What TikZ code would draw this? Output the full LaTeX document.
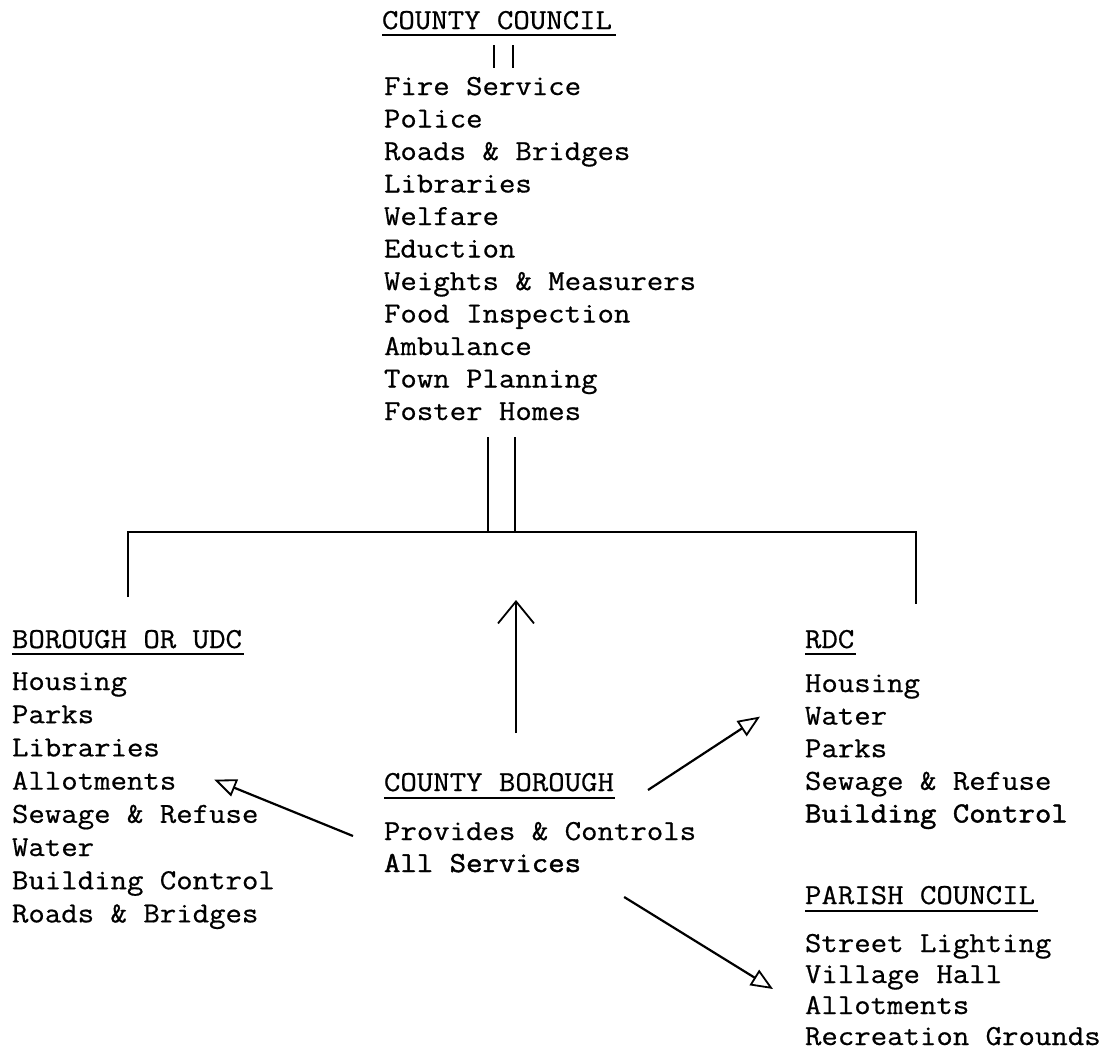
\documentclass[tikz,border=0pt]{standalone}
\usepackage{fontspec}
\newfontfamily\tw{Latin Modern Mono}[FakeStretch=1.1,FakeBold=0.6]
\newfontfamily\twheavy{Latin Modern Mono}[FakeStretch=1.1,FakeBold=1.6]
\usetikzlibrary{arrows.meta,calc}
\begin{document}
\begin{tikzpicture}[x=1pt,y=-1pt,
  every node/.style={inner sep=0pt, outer sep=0pt, anchor=base west,
    font=\tw\fontsize{29}{33}\selectfont},
  heavy/.style={font=\twheavy\fontsize{29}{33}\selectfont},
  conn/.style={line width=2pt},
  bus/.style={line width=2.4pt},
  ul/.style={line width=2.4pt},
  uparr/.style={line width=2.2pt, -{Straight Barb[length=22pt,width=36pt,line width=1.8pt]}},
  darr/.style={line width=2.2pt, -{Triangle[open,length=22pt,width=18pt,line width=1.8pt]}}]
\path[use as bounding box] (0,0) rectangle (1112,1052);

% County Council
\node (cch) at (382,29) {COUNTY COUNCIL};
\foreach \t [count=\i] in {Fire Service, Police, Roads \& Bridges, Libraries, Welfare,
  Eduction, Weights \& Measurers, Food Inspection, Ambulance, Town Planning, Foster Homes}
  \node (cc\i) at (384,{95+32.5*(\i-1)}) {\t};
\draw[ul] ($(cch.base west)+(0,6)$) -- ($(cch.base east)+(4,6)$);
\draw[conn] ($(cch.base west)+(112,16)$) -- ($(cc1.base west)+(110,-27)$);
\draw[conn] ($(cch.base west)+(131,16)$) -- ($(cc1.base west)+(129,-27)$);

% Borough or UDC
\node (buh) at (12,648) {BOROUGH OR UDC};
\foreach \t [count=\i] in {Housing, Parks, Libraries, Allotments, Sewage \& Refuse, Water,
  Building Control, Roads \& Bridges}
  \node (bu\i) at (12,{690+33.2*(\i-1)}) {\t};
\draw[ul] ($(buh.base west)+(0,6)$) -- ($(buh.base east)+(2,6)$);

% RDC
\node (rdh) at (805,648) {RDC};
\foreach \t [count=\i] in {Housing, Water, Parks, Sewage \& Refuse}
  \node (rd\i) at (805,{692+32.6*(\i-1)}) {\t};
\node[heavy] (rd5) at (805,{692+32.6*4}) {Building Control};
\draw[ul] ($(rdh.base west)+(0,6)$) -- ($(rdh.base east)+(2,6)$);

% County Borough
\node (cbh) at (384,791) {COUNTY BOROUGH};
\node (cb1) at (384,840) {Provides \& Controls};
\node[heavy] (cb2) at (384,872) {All Services};
\draw[ul] ($(cbh.base west)+(0,7)$) -- ($(cbh.base east)+(1,7)$);

% Parish Council
\node (pch) at (805,904) {PARISH COUNCIL};
\foreach \t [count=\i] in {Street Lighting, Village Hall, Allotments, Recreation Grounds}
  \node (pc\i) at (805,{952+31*(\i-1)}) {\t};
\draw[ul] ($(pch.base west)+(0,7)$) -- ($(pch.base east)+(3,7)$);

% Bus from County Council
\coordinate (fa) at ($(cc11.base west)+(104,17)$);
\coordinate (fb) at ($(cc11.base west)+(131,17)$);
\coordinate (busL) at (128,532);
\coordinate (busR) at (916,532);
\coordinate (dropL) at (128,597);
\coordinate (dropR) at (916,604);
\draw[conn] (fa) -- (fa |- busL);
\draw[conn] (fb) -- (fb |- busR);
\draw[bus] (dropL) -- (busL) -- (busR) -- (dropR);

% Arrows from County Borough
\coordinate (uptip) at (516,600);
\draw[uparr] ($(cbh.base west)+(132,-58)$) -- (uptip);
\draw[darr] ($(cb1.base west)+(-31,-4)$) -- ($(bu4.base east)+(38,-10)$);
\draw[darr] ($(cbh.base east)+(34,-1)$) -- ($(rd2.base west)+(-45,-8)$);
\draw[darr] ($(cb1.base east)+(-72,57)$) -- ($(pc2.base west)+(-32,6)$);
\end{tikzpicture}
\end{document}
